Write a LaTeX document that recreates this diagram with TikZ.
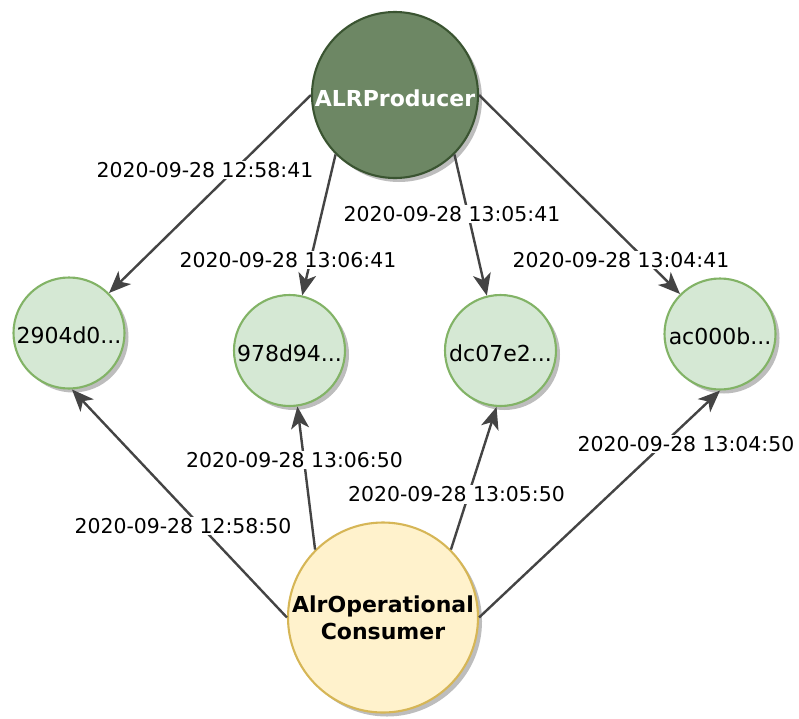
\documentclass[tikz,border=0pt]{standalone}
\usepackage{fontspec}
\setmainfont{DejaVu Sans}
\usetikzlibrary{arrows.meta,shadows}
\definecolor{prodfill}{HTML}{6D8764}
\definecolor{prodline}{HTML}{3A5431}
\definecolor{hashfill}{HTML}{D5E8D4}
\definecolor{hashline}{HTML}{82B366}
\definecolor{consfill}{HTML}{FFF2CC}
\definecolor{consline}{HTML}{D6B656}
\definecolor{edgegray}{HTML}{444444}
\definecolor{shadowgray}{HTML}{BDBDBD}
% lower a node text without changing the box it reports
\newcommand{\lowertext}[2]{\raisebox{-#1}[\height][\depth]{#2}}
\begin{document}
\begin{tikzpicture}[x=1pt,y=-1pt,
  ball/.style={circle,inner sep=0pt,line width=2.1pt,
    drop shadow={shadow xshift=4pt,shadow yshift=-4pt,fill=shadowgray,opacity=1}},
  producer/.style={ball,fill=prodfill,draw=prodline,minimum size=166pt,
    text=white,font=\fontsize{22}{27}\selectfont\bfseries},
  hash/.style={ball,fill=hashfill,draw=hashline,minimum size=111pt,
    font=\fontsize{22}{27}\selectfont},
  consumer/.style={ball,fill=consfill,draw=consline,minimum size=190pt,
    align=center,font=\fontsize{22}{27}\selectfont\bfseries},
  conn/.style={draw=edgegray,line width=2.4pt,
    -{Stealth[length=22pt 0 0,width=18pt 0 0,inset=6pt]}},
  lbl/.style={fill=white,inner sep=1.5pt,font=\fontsize{20.4}{24}\selectfont}]
\useasboundingbox (0,0) rectangle (799,718);

% main services
\node[producer] (prod) at (395,95) {\lowertext{3pt}{ALRProducer}};
\node[consumer] (cons) at (383,617.5) {AlrOperational\\Consumer};

% message nodes
\node[hash] (h1) at (69,333) {\lowertext{2.5pt}{2904d0...}};
\node[hash] (h2) at (289.5,350.5) {\lowertext{2.5pt}{978d94...}};
\node[hash] (h3) at (500.5,350.5) {\lowertext{2.5pt}{dc07e2...}};
\node[hash] (h4) at (720,334) {\lowertext{2.5pt}{ac000b...}};

% produced messages
\draw[conn] (prod.180) -- (h1.45);
\draw[conn] (prod.225) -- (h2.77);
\draw[conn] (prod.315) -- (h3.104);
\draw[conn] (prod.0) -- (h4.135);

% consumed messages
\draw[conn] (cons.180) -- (h1.273);
\draw[conn] (cons.135) -- (h2.278);
\draw[conn] (cons.45) -- (h3.266);
\draw[conn] (cons.0) -- (h4.270);

% timestamps
\node[lbl] (t1) at (205,170) {2020-09-28 12:58:41};
\node[lbl] (t2) at (288,260) {2020-09-28 13:06:41};
\node[lbl] (t3) at (452,214) {2020-09-28 13:05:41};
\node[lbl] (t4) at (621,260) {2020-09-28 13:04:41};
\node[lbl] (t5) at (294.5,460) {2020-09-28 13:06:50};
\node[lbl] (t6) at (456.5,494.5) {2020-09-28 13:05:50};
\node[lbl] (t7) at (183,526) {2020-09-28 12:58:50};
\node[lbl] (t8) at (686,444) {2020-09-28 13:04:50};
\end{tikzpicture}
\end{document}
